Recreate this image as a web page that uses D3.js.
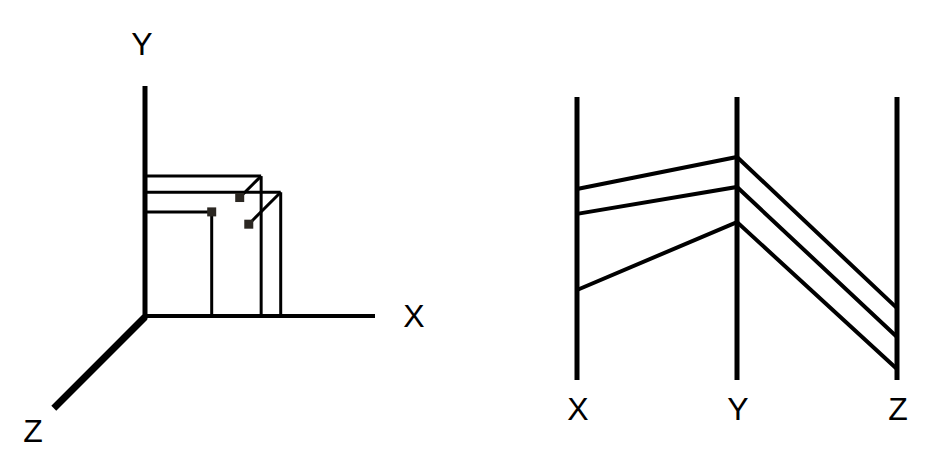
<!DOCTYPE html>
<html>
<head>
<meta charset="utf-8">
<script src="https://cdn.jsdelivr.net/npm/d3@7"></script>
<style>
  html, body { margin: 0; padding: 0; background: #fff; }
  svg { display: block; }
  text { font-family: "Liberation Sans", Arial, sans-serif; font-size: 32px; fill: #000; }
</style>
</head>
<body>
<svg id="chart" width="945" height="462"></svg>
<script>
// ---- 3D scatter data ----
const axisNames = ["X", "Y", "Z"];
const ptX = [2.9, 5.05, 5.9];
const ptY = [4.55, 6.1, 5.4];
const ptZ = [0, 2.35, 3.5];

// ---- parallel coordinates data ----
const pcX = [6.75, 5.87, 3.18];
const pcY = [7.88, 6.82, 5.58];
const pcZ = [2.54, 1.52, 0.39];

const svg = d3.select("#chart");

// ---------- left: 3D projection ----------
const x3 = d3.scaleLinear().domain([0, 10]).range([145, 375]);
const y3 = d3.scaleLinear().domain([0, 10]).range([317, 86]);
const z3 = d3.scaleLinear().domain([0, 10]).range([0, 129]);
const ang = Math.PI / 4;
const zdx = v => -Math.cos(ang) * z3(v);
const zdy = v => Math.sin(ang) * z3(v);

const g3 = svg.append("g");
const pts = ptX.map((x, i) => ({ x, y: ptY[i], z: ptZ[i] }));

// projection lines
pts.forEach(p => {
  const bx = x3(p.x), by = y3(p.y);
  g3.append("line").attr("x1", x3(0)).attr("y1", by).attr("x2", bx).attr("y2", by)
    .attr("stroke", "#000").attr("stroke-width", 3);
  g3.append("line").attr("x1", bx).attr("y1", by).attr("x2", bx).attr("y2", y3(0))
    .attr("stroke", "#000").attr("stroke-width", 3);
  if (p.z > 0) {
    g3.append("line").attr("x1", bx).attr("y1", by)
      .attr("x2", bx + zdx(p.z)).attr("y2", by + zdy(p.z))
      .attr("stroke", "#000").attr("stroke-width", 3);
  }
});

// axes
g3.append("line").attr("x1", x3(0)).attr("y1", y3(0) - 1).attr("x2", x3(10)).attr("y2", y3(0) - 1)
  .attr("stroke", "#000").attr("stroke-width", 4);
g3.append("line").attr("x1", x3(0)).attr("y1", y3(0) + 2).attr("x2", x3(0)).attr("y2", y3(10))
  .attr("stroke", "#000").attr("stroke-width", 5);
g3.append("line").attr("x1", x3(0)).attr("y1", y3(0))
  .attr("x2", x3(0) + zdx(10)).attr("y2", y3(0) + zdy(10))
  .attr("stroke", "#000").attr("stroke-width", 7);

// markers
pts.forEach(p => {
  const mx = x3(p.x) + zdx(p.z), my = y3(p.y) + zdy(p.z);
  g3.append("rect").attr("x", mx - 4.5).attr("y", my - 4.5).attr("width", 9).attr("height", 9)
    .attr("fill", "#2b2722");
});

// labels
g3.append("text").attr("x", 142).attr("y", 55).attr("text-anchor", "middle").text(axisNames[1]);
g3.append("text").attr("x", 414).attr("y", 327).attr("text-anchor", "middle").text(axisNames[0]);
g3.append("text").attr("x", 33).attr("y", 442).attr("text-anchor", "middle").text(axisNames[2]);

// ---------- right: parallel coordinates ----------
const px = d3.scalePoint().domain(axisNames).range([577, 897]);
const py = d3.scaleLinear().domain([0, 10]).range([380, 97]);
const rows = pcX.map((v, i) => [v, pcY[i], pcZ[i]]);

const gp = svg.append("g");
const line = d3.line().x((d, i) => px(axisNames[i])).y(d => py(d));
gp.selectAll("path.pl").data(rows).join("path").attr("class", "pl")
  .attr("d", line).attr("fill", "none").attr("stroke", "#000")
  .attr("stroke-width", 4).attr("stroke-linejoin", "miter");

axisNames.forEach(n => {
  gp.append("line").attr("x1", px(n)).attr("x2", px(n)).attr("y1", py(10)).attr("y2", py(0))
    .attr("stroke", "#000").attr("stroke-width", 5);
  gp.append("text").attr("x", px(n) + 1).attr("y", 420).attr("text-anchor", "middle").text(n);
});
</script>
</body>
</html>
